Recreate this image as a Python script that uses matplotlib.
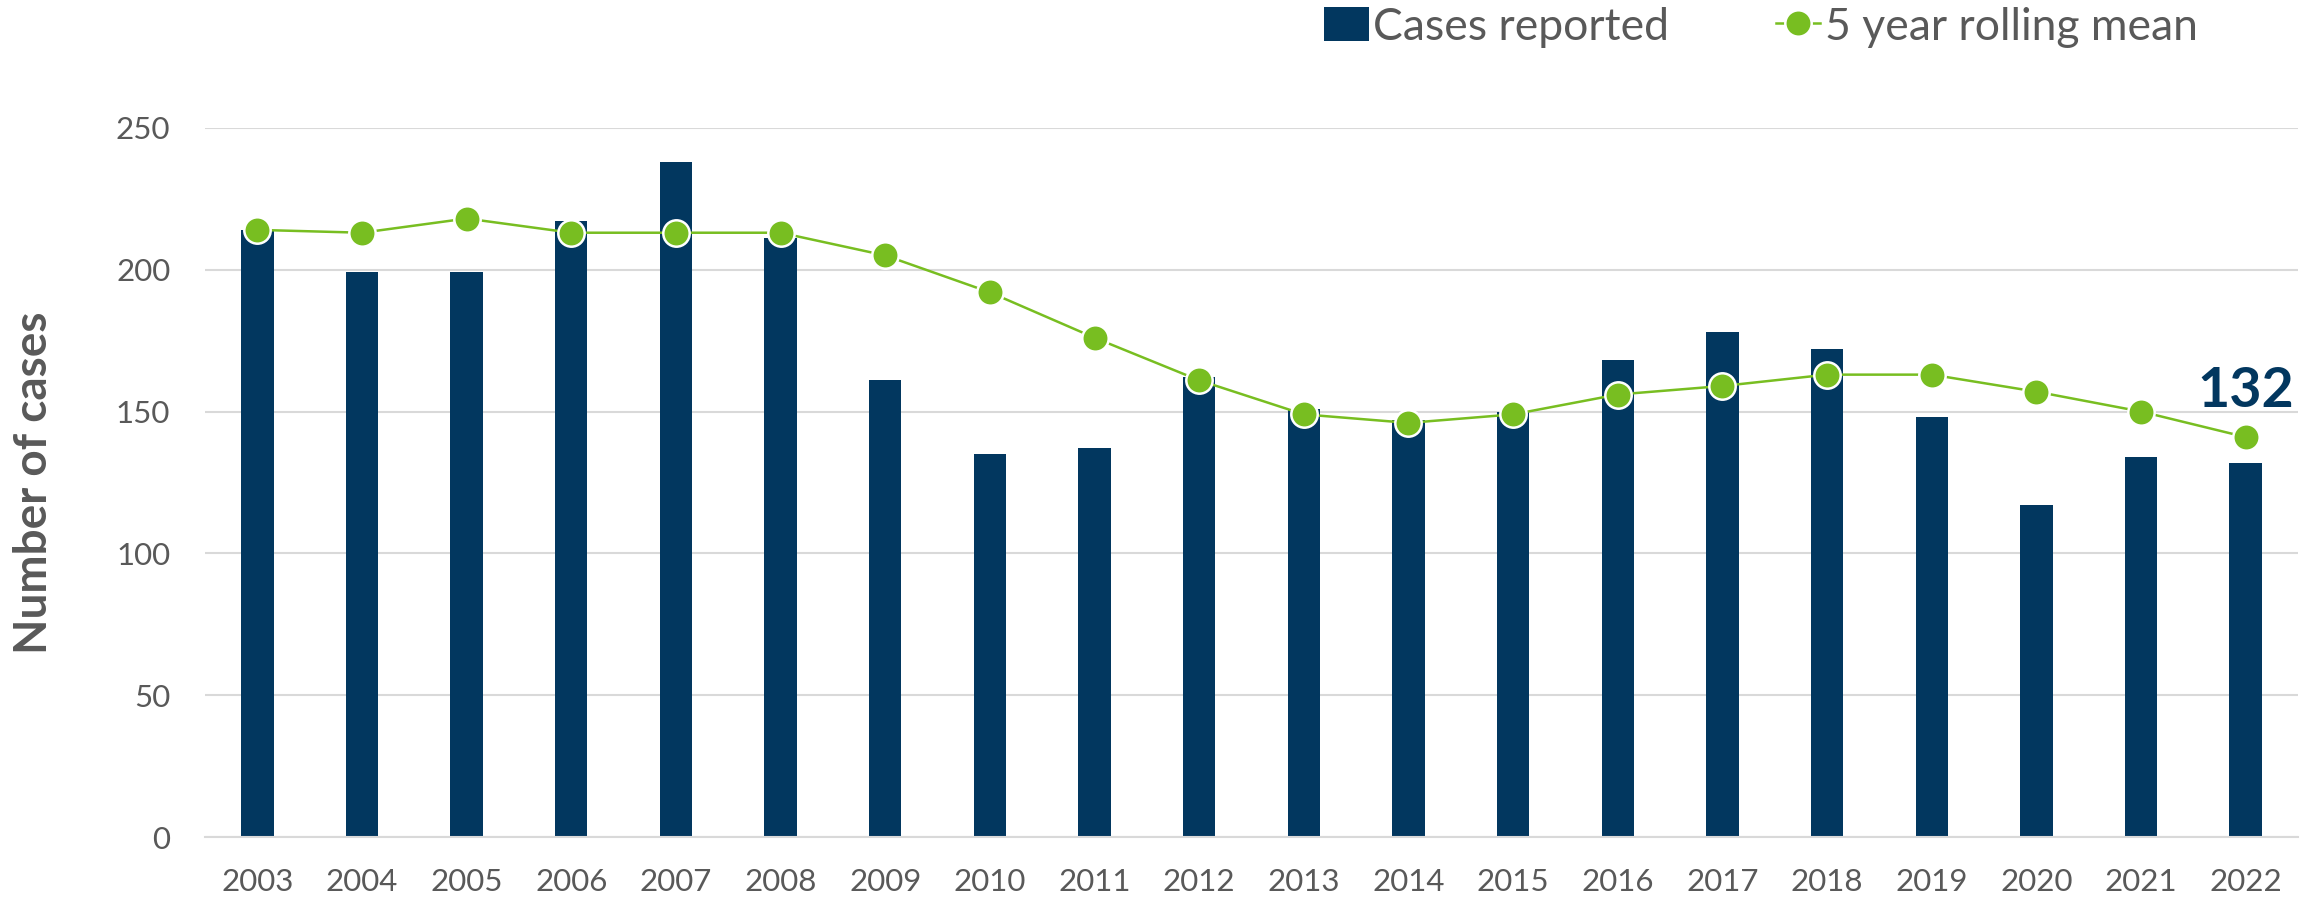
import matplotlib
matplotlib.use("Agg")
import matplotlib.pyplot as plt
import numpy as np

plt.rcParams['font.family'] = ['Lato', 'DejaVu Sans']

# data
years = [str(y) for y in range(2003, 2023)]
cases = [214, 199, 199, 217, 238, 211, 161, 135, 137, 162,
         151, 147, 150, 168, 178, 172, 148, 117, 134, 132]
rolling_mean = [214, 213, 218, 213, 213, 213, 205, 192, 176, 161,
                149, 146, 149, 156, 159, 163, 163, 157, 150, 141]
last_label = "132"

navy = "#02375F"
green = "#78BE21"
grey_text = "#595959"
grid_col = "#D9D9D9"

fig = plt.figure(figsize=(23.18, 9.02), dpi=100)
ax = fig.add_axes([205/2318, 1 - 837.3/902, (2298-205)/2318, (837.3-127.7)/902])

x = np.arange(len(years))
bars = ax.bar(x, cases, width=0.31, color=navy, label="Cases reported", zorder=2)
line, = ax.plot(x, rolling_mean, color=green, lw=1.8, marker='o', markersize=19,
                markerfacecolor=green, markeredgecolor='white', markeredgewidth=1.8,
                label="5 year rolling mean", zorder=3)

ax.text(x[-1], 151.5, last_label, ha='center', va='baseline',
        fontsize=40, fontweight='bold', color=navy, zorder=4)

ax.set_xlim(-0.5, len(years) - 0.5)
ax.set_ylim(0, 250)
ax.set_yticks([0, 50, 100, 150, 200, 250])
ax.set_xticks(x)
ax.set_xticklabels(years)
ax.yaxis.grid(True, color=grid_col, lw=1.5, zorder=0)
ax.set_axisbelow(True)
for s in ['top', 'right', 'left']:
    ax.spines[s].set_visible(False)
ax.spines['bottom'].set_color(grid_col)
ax.spines['bottom'].set_linewidth(1.5)
ax.tick_params(axis='both', length=0, labelsize=22.5, labelcolor=grey_text)
ax.tick_params(axis='x', pad=22)
ax.tick_params(axis='y', pad=25)

ax.set_ylabel("Number of cases", fontsize=33, fontweight='bold', color=grey_text)
ax.yaxis.set_label_coords(-0.0717, 0.5)

fig.legend([bars, line], ["Cases reported", "5 year rolling mean"],
           loc='center', bbox_to_anchor=(1761/2318, 1 - 27/902), ncol=2,
           frameon=False, fontsize=32, labelcolor=grey_text,
           handlelength=1.0, handleheight=0.8, handletextpad=0.1,
           columnspacing=2.4, borderaxespad=0)

fig.savefig("out.png", dpi=100)
